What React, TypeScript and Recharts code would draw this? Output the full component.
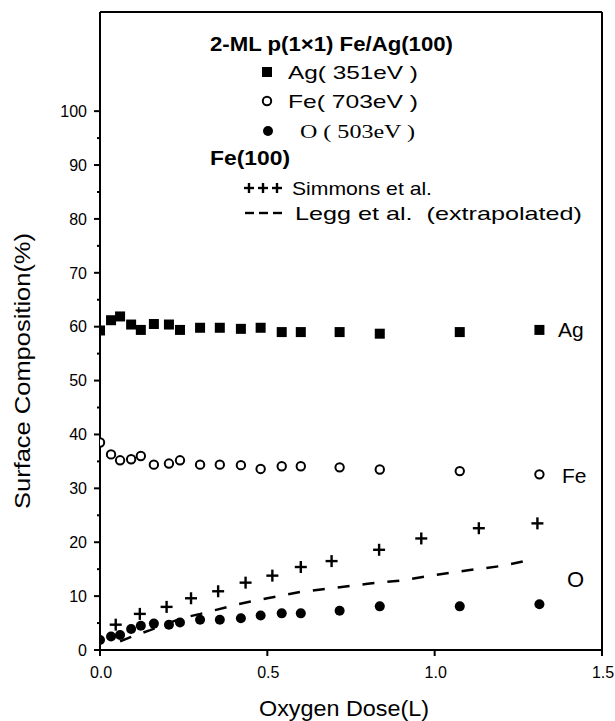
import React from 'react';
import { ComposedChart, Scatter, Line, XAxis, YAxis, ReferenceLine, Customized } from 'recharts';

// Oxygen dose (L) of the 2-ML Fe/Ag(100) measurements
const doses = [0, 0.033, 0.06, 0.093, 0.122, 0.161, 0.206, 0.239, 0.299, 0.358, 0.421, 0.48, 0.543, 0.6, 0.716, 0.836, 1.075, 1.313];
const agValues = [59.3, 61.2, 61.9, 60.4, 59.4, 60.5, 60.4, 59.4, 59.8, 59.8, 59.6, 59.8, 59.0, 59.0, 59.0, 58.7, 59.0, 59.4];
const feValues = [38.5, 36.3, 35.2, 35.4, 36.0, 34.4, 34.6, 35.2, 34.4, 34.4, 34.3, 33.6, 34.1, 34.1, 33.9, 33.5, 33.2, 32.6];
const oValues = [1.85, 2.5, 2.8, 3.9, 4.5, 4.9, 4.7, 5.1, 5.6, 5.6, 5.9, 6.4, 6.8, 6.8, 7.3, 8.1, 8.1, 8.5];

// Fe(100) reference data
const simmonsDoses = [0.047, 0.119, 0.199, 0.272, 0.353, 0.435, 0.515, 0.6, 0.692, 0.834, 0.96, 1.132, 1.307];
const simmonsValues = [4.7, 6.7, 8.0, 9.6, 10.9, 12.5, 13.8, 15.4, 16.5, 18.6, 20.7, 22.6, 23.5];
const leggDoses = [0.06, 0.1, 0.15, 0.2, 0.25, 0.3, 0.35, 0.4, 0.45, 0.5, 0.6, 0.7, 0.8, 0.9, 1.0, 1.1, 1.2, 1.284];
const leggValues = [1.6, 2.6, 3.7, 4.9, 6.0, 6.7, 7.5, 8.3, 9.0, 9.6, 10.8, 11.5, 12.3, 12.9, 13.9, 14.8, 15.6, 16.7];

const yTicks = [0, 5, 10, 15, 20, 25, 30, 35, 40, 45, 50, 55, 60, 65, 70, 75, 80, 85, 90, 95, 100];
const xTicks = [0, 0.5, 1.0, 1.5];
const yMax = 118.4;
const xMax = 1.5;

const agData = doses.map((x, i) => ({ x, y: agValues[i] }));
const feData = doses.map((x, i) => ({ x, y: feValues[i] }));
const oData = doses.map((x, i) => ({ x, y: oValues[i] }));
const simmonsData = simmonsDoses.map((x, i) => ({ x, y: simmonsValues[i] }));
const leggData = leggDoses.map((x, i) => ({ x, y: leggValues[i] }));

const SANS = '"Liberation Sans", Arial, Helvetica, sans-serif';
const SERIF = '"Liberation Serif", "Times New Roman", serif';

const Square = (p: any) => <rect x={p.cx - 5} y={p.cy - 5} width={10} height={10} fill="#000" />;
const OpenCircle = (p: any) => <circle cx={p.cx} cy={p.cy} r={4.2} fill="#fff" stroke="#000" strokeWidth={2} />;
const FilledDot = (p: any) => <circle cx={p.cx} cy={p.cy} r={5} fill="#000" />;
const Plus = (p: any) => (
  <g stroke="#000" strokeWidth={2.4}>
    <line x1={p.cx - 6} x2={p.cx + 6} y1={p.cy} y2={p.cy} />
    <line x1={p.cx} x2={p.cx} y1={p.cy - 6} y2={p.cy + 6} />
  </g>
);

const YTick = (p: any) => {
  const v = p.payload.value;
  const major = v % 10 === 0;
  return (
    <g>
      <line x1={p.x - (major ? 6 : 3)} x2={p.x} y1={p.y} y2={p.y} stroke="#000" strokeWidth={2} />
      {major && (
        <text x={p.x - 13} y={p.y} dy="0.36em" textAnchor="end" fontSize={16} fontFamily={SANS} fill="#000">
          {v}
        </text>
      )}
    </g>
  );
};

const XTick = (p: any) => {
  const v = p.payload.value;
  return (
    <g>
      <line x1={p.x} x2={p.x} y1={p.y} y2={p.y + 6} stroke="#000" strokeWidth={2} />
      <text x={p.x + 1} y={p.y + 28} textAnchor="middle" fontSize={16} fontFamily={SANS} fill="#000">
        {v.toFixed(1)}
      </text>
    </g>
  );
};

const Annotations = () => (
  <g fill="#000">
    {/* axis titles */}
    <text x={22} y={371} transform="rotate(-90 22 371)" textAnchor="middle" dominantBaseline="central" fontSize={22} fontFamily={SANS} textLength={276} lengthAdjust="spacingAndGlyphs">
      Surface Composition(%)
    </text>
    <text x={344} y={716} textAnchor="middle" fontSize={22} fontFamily={SANS} textLength={170} lengthAdjust="spacingAndGlyphs">
      Oxygen Dose(L)
    </text>

    {/* legend */}
    <text x={210} y={51} fontSize={20} fontWeight="bold" fontFamily={SANS} textLength={243} lengthAdjust="spacingAndGlyphs">
      2-ML p(1×1) Fe/Ag(100)
    </text>
    <rect x={262} y={67} width={10} height={10} fill="#000" />
    <text x={288} y={79} fontSize={19} fontFamily={SANS} textLength={130} lengthAdjust="spacingAndGlyphs">
      Ag( 351eV )
    </text>
    <circle cx={267} cy={101} r={4.2} fill="#fff" stroke="#000" strokeWidth={2} />
    <text x={288} y={108} fontSize={19} fontFamily={SANS} textLength={130} lengthAdjust="spacingAndGlyphs">
      Fe( 703eV )
    </text>
    <circle cx={268} cy={131} r={5} fill="#000" />
    <text x={300} y={138} fontSize={19} fontFamily={SERIF} textLength={115} lengthAdjust="spacingAndGlyphs">
      O ( 503eV )
    </text>
    <text x={210} y={165} fontSize={20} fontWeight="bold" fontFamily={SANS} textLength={80} lengthAdjust="spacingAndGlyphs">
      Fe(100)
    </text>
    <g stroke="#000" strokeWidth={2.4}>
      {[249, 263, 277].map((cx) => (
        <g key={cx}>
          <line x1={cx - 5} x2={cx + 5} y1={188} y2={188} />
          <line x1={cx} x2={cx} y1={183} y2={193} />
        </g>
      ))}
      {[245, 259, 273].map((x0) => (
        <line key={x0} x1={x0} x2={x0 + 9} y1={213} y2={213} />
      ))}
    </g>
    <text x={292} y={195} fontSize={19} fontFamily={SANS} textLength={140} lengthAdjust="spacingAndGlyphs">
      Simmons et al.
    </text>
    <text x={295} y={220} fontSize={19} fontFamily={SANS} textLength={287} lengthAdjust="spacingAndGlyphs" style={{ whiteSpace: 'pre' }}>
      {'Legg et al.  (extrapolated)'}
    </text>

    {/* series labels */}
    <text x={558} y={337} fontSize={21} fontFamily={SANS}>Ag</text>
    <text x={562} y={483} fontSize={21} fontFamily={SANS}>Fe</text>
    <text x={567} y={587} fontSize={22} fontFamily={SANS} fontWeight={300}>O</text>
  </g>
);

export default function App() {
  return (
    <div style={{ width: 615, height: 721 }}>
      <style>{'html,body{margin:0;padding:0;}'}</style>
      <ComposedChart width={615} height={721} margin={{ top: 12, right: 13, left: 0, bottom: 0 }}>
        <XAxis
          dataKey="x"
          type="number"
          domain={[0, xMax]}
          ticks={xTicks}
          allowDataOverflow
          height={71}
          tickSize={0}
          tickMargin={0}
          tick={<XTick />}
          axisLine={{ stroke: '#000', strokeWidth: 2 }}
          tickLine={false}
          interval={0}
        />
        <YAxis
          dataKey="y"
          type="number"
          domain={[0, yMax]}
          ticks={yTicks}
          allowDataOverflow
          width={100}
          tickSize={0}
          tickMargin={0}
          tick={<YTick />}
          axisLine={{ stroke: '#000', strokeWidth: 2 }}
          tickLine={false}
          interval={0}
        />
        <ReferenceLine y={yMax} stroke="#000" strokeWidth={2} />
        <ReferenceLine x={xMax} stroke="#000" strokeWidth={2} />
        <Line data={leggData} dataKey="y" type="linear" stroke="#000" strokeWidth={2.5} strokeDasharray="12 13" dot={false} isAnimationActive={false} />
        <Scatter data={simmonsData} dataKey="y" shape={Plus} isAnimationActive={false} />
        <Scatter data={agData} dataKey="y" shape={Square} isAnimationActive={false} />
        <Scatter data={feData} dataKey="y" shape={OpenCircle} isAnimationActive={false} />
        <Scatter data={oData} dataKey="y" shape={FilledDot} isAnimationActive={false} />
        <Customized component={Annotations} />
      </ComposedChart>
    </div>
  );
}
